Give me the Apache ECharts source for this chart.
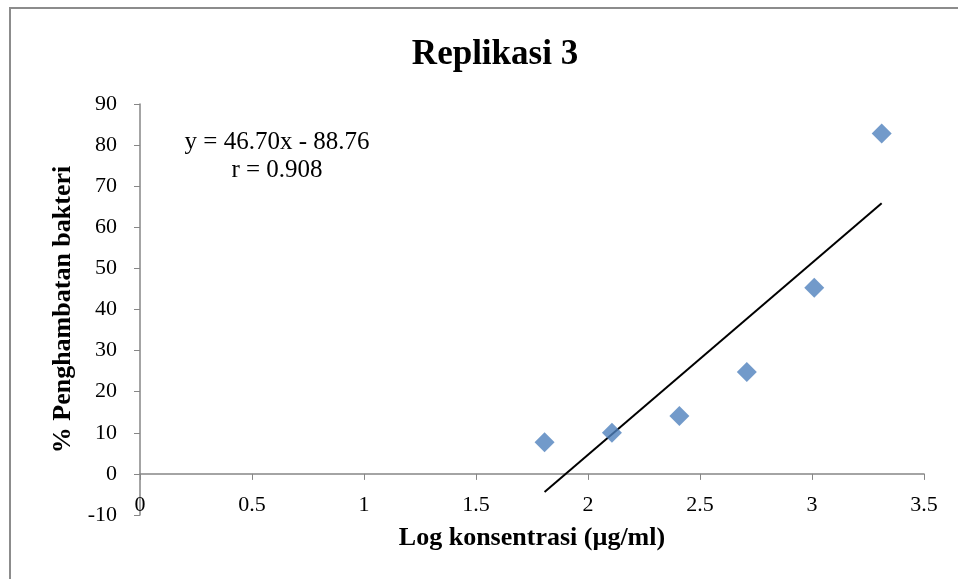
<!DOCTYPE html>
<html>
<head>
<meta charset="utf-8">
<script src="https://cdn.jsdelivr.net/npm/echarts@6/dist/echarts.min.js"></script>
<style>html,body{margin:0;padding:0;background:#fff;}#c{width:958px;height:579px;}</style>
</head>
<body>
<div id="c"></div>
<script>
const logConc = [1.806, 2.107, 2.408, 2.709, 3.010, 3.311];
const inhibition = [7.7, 10.0, 14.1, 24.8, 45.3, 82.8];
const trendX = [1.806, 3.311];
const trendY = [-4.42, 65.87];
const xTicks = [0, 0.5, 1, 1.5, 2, 2.5, 3, 3.5];
const yTicks = [-10, 0, 10, 20, 30, 40, 50, 60, 70, 80, 90];
const titleText = 'Replikasi 3';
const eqText = 'y = 46.70x - 88.76';
const rText = 'r = 0.908';

const font = '"Liberation Serif", "Times New Roman", serif';
const chart = echarts.init(document.getElementById('c'));
chart.setOption({
  animation: false,
  backgroundColor: '#fff',
  title: {
    text: titleText, left: 490, top: 32, textAlign: 'center',
    textStyle: { fontFamily: font, fontSize: 35, fontWeight: 'bold', color: '#000' }
  },
  grid: { left: 140, right: 34, top: 104, bottom: 64, outerBoundsMode: 'none', containLabel: false },
  graphic: [
    { type: 'rect', shape: { x: 10, y: 8, width: 980, height: 600 }, style: { fill: 'none', stroke: '#8c8c8c', lineWidth: 2 }, z: -1 },
    { type: 'text', x: 277, y: 142, style: { text: eqText, font: '25px ' + font, fill: '#000', align: 'center', verticalAlign: 'middle' } },
    { type: 'text', x: 277, y: 170, style: { text: rText, font: '25px ' + font, fill: '#000', align: 'center', verticalAlign: 'middle' } }
  ],
  xAxis: {
    type: 'value', min: 0, max: 3.5, interval: 0.5,
    name: 'Log konsentrasi (µg/ml)', nameLocation: 'middle', nameGap: 10,
    nameTextStyle: { fontFamily: font, fontSize: 26, fontWeight: 'bold', color: '#000' },
    axisLine: { show: true, onZero: true, lineStyle: { color: '#868686', width: 1.5 } },
    axisTick: { show: true, inside: false, length: 6, lineStyle: { color: '#868686' } },
    splitLine: { show: false },
    axisLabel: { margin: -21, fontFamily: font, fontSize: 22, color: '#000',
      formatter: v => xTicks.includes(v) ? String(v) : '' }
  },
  yAxis: {
    type: 'value', min: -10, max: 90, interval: 10,
    name: '% Penghambatan bakteri', nameLocation: 'middle', nameGap: 64, nameRotate: 90,
    nameTextStyle: { fontFamily: font, fontSize: 26, fontWeight: 'bold', color: '#000' },
    axisLine: { show: true, lineStyle: { color: '#868686', width: 1.5 } },
    axisTick: { show: true, length: 6, lineStyle: { color: '#868686' } },
    splitLine: { show: false },
    axisLabel: { margin: 23, fontFamily: font, fontSize: 22, color: '#000',
      formatter: v => yTicks.includes(v) ? String(v) : '' }
  },
  series: [
    {
      type: 'line', data: trendX.map((x, i) => [x, trendY[i]]),
      symbol: 'none', lineStyle: { color: '#000', width: 2 }, z: 2
    },
    {
      type: 'scatter', data: logConc.map((x, i) => [x, inhibition[i]]),
      symbol: 'diamond', symbolSize: 20, itemStyle: { color: '#4F81BD' }, z: 3
    }
  ]
});
</script>
</body>
</html>
